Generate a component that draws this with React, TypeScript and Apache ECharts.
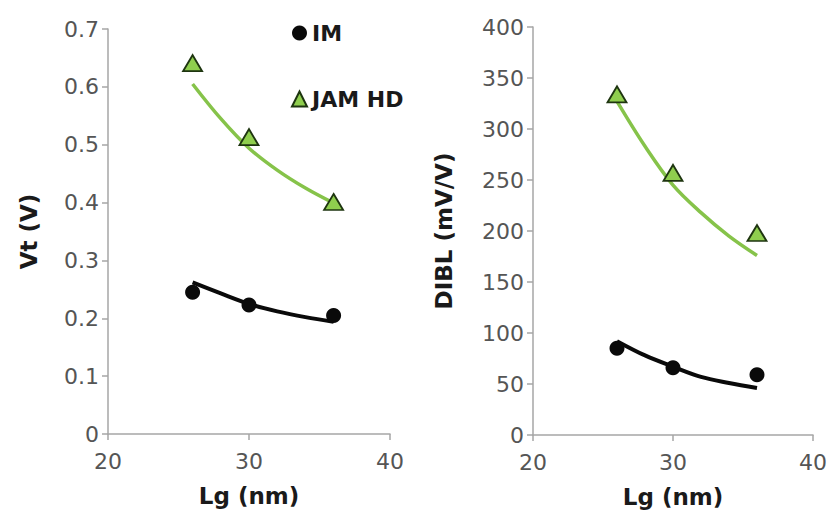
import React, { useEffect, useRef } from "react";
import * as echarts from "echarts";

// Measured points (Lg in nm)
const lg = [26, 30, 36];
const vtIM = [0.245, 0.223, 0.205];
const vtJAM = [0.641, 0.513, 0.401];
const dibIM = [85, 66, 59];
const dibJAM = [334, 257, 198];

// Fitted curves
const fitLg = [26, 28, 30, 32, 34, 36];
const vtIMFit = [0.262, 0.243, 0.225, 0.212, 0.202, 0.194];
const vtJAMFit = [0.605, 0.545, 0.494, 0.456, 0.425, 0.399];
const dibIMFit = [92, 78, 67, 57, 51, 46];
const dibJAMFit = [327, 283, 245, 218, 195, 176];

const xTicks = [20, 30, 40];

const FONT = "'DejaVu Sans', 'Open Sans', sans-serif";
const AXIS_GRAY = "#a6a6a6";
const LABEL_GRAY = "#555555";
const GREEN_LINE = "#86c34a";
const GREEN_FILL = "#8fce4e";
const GREEN_EDGE = "#1e3510";

const pairs = (xs: number[], ys: number[]) => xs.map((x, i) => [x, ys[i]]);

export default function App() {
  const ref = useRef<HTMLDivElement>(null);
  useEffect(() => {
    if (!ref.current) return;
    const chart = echarts.init(ref.current, null, { renderer: "svg" });

    const xAxisBase = (gridIndex: number) => ({
      type: "value",
      gridIndex,
      min: xTicks[0],
      max: xTicks[xTicks.length - 1],
      interval: 10,
      name: "Lg (nm)",
      nameLocation: "middle",
      nameGap: 50,
      nameTextStyle: { fontFamily: FONT, fontSize: 23, fontWeight: "bold", color: "#1a1a1a" },
      axisLine: { show: true, lineStyle: { color: AXIS_GRAY, width: 1.5 } },
      axisTick: { show: true, inside: false, length: 6, lineStyle: { color: AXIS_GRAY, width: 1.5 } },
      axisLabel: { fontFamily: FONT, fontSize: 22, color: LABEL_GRAY, margin: 16 },
      splitLine: { show: false },
    });

    const yAxisBase = (gridIndex: number, max: number, interval: number, name: string, nameGap: number) => ({
      type: "value",
      gridIndex,
      min: 0,
      max,
      interval,
      name,
      nameLocation: "middle",
      nameGap,
      nameTextStyle: { fontFamily: FONT, fontSize: 23, fontWeight: "bold", color: "#1a1a1a" },
      axisLine: { show: true, lineStyle: { color: AXIS_GRAY, width: 1.5 } },
      axisTick: { show: true, inside: false, length: 6, lineStyle: { color: AXIS_GRAY, width: 1.5 } },
      axisLabel: { fontFamily: FONT, fontSize: 22, color: LABEL_GRAY, margin: 9 },
      splitLine: { show: false },
    });

    const fitLine = (name: string, xi: number, data: number[][], color: string, width: number) => ({
      type: "line",
      name,
      xAxisIndex: xi,
      yAxisIndex: xi,
      data,
      smooth: 0.35,
      showSymbol: false,
      symbol: "none",
      lineStyle: { color, width },
      z: 2,
      silent: true,
    });

    const imScatter = (xi: number, data: number[][]) => ({
      type: "scatter",
      name: "IM",
      xAxisIndex: xi,
      yAxisIndex: xi,
      data,
      symbol: "circle",
      symbolSize: 15,
      itemStyle: { color: "#0a0a0a", opacity: 1 },
      z: 3,
    });

    const jamScatter = (xi: number, data: number[][]) => ({
      type: "scatter",
      name: "JAM HD",
      xAxisIndex: xi,
      yAxisIndex: xi,
      data,
      symbol: "triangle",
      symbolSize: [19, 16],
      itemStyle: { color: GREEN_FILL, borderColor: GREEN_EDGE, borderWidth: 1.8, opacity: 1 },
      z: 3,
    });

    chart.setOption({
      animation: false,
      backgroundColor: "#ffffff",
      grid: [
        { left: 108, top: 29, width: 282, height: 405 },
        { left: 533, top: 27, width: 280, height: 408 },
      ],
      xAxis: [xAxisBase(0), xAxisBase(1)],
      yAxis: [
        yAxisBase(0, 0.7, 0.1, "Vt (V)", 68),
        yAxisBase(1, 400, 50, "DIBL (mV/V)", 78),
      ],
      legend: {
        data: ["IM", "JAM HD"],
        orient: "vertical",
        left: 286,
        top: 14,
        itemWidth: 15,
        itemHeight: 15,
        itemGap: 38,
        textStyle: { fontFamily: FONT, fontSize: 22, fontWeight: "bold", color: "#1a1a1a", lineHeight: 28 },
        selectedMode: false,
      },
      series: [
        fitLine("IM fit", 0, pairs(fitLg, vtIMFit), "#0a0a0a", 4),
        fitLine("JAM fit", 0, pairs(fitLg, vtJAMFit), GREEN_LINE, 3.5),
        imScatter(0, pairs(lg, vtIM)),
        jamScatter(0, pairs(lg, vtJAM)),
        fitLine("IM fit", 1, pairs(fitLg, dibIMFit), "#0a0a0a", 4),
        fitLine("JAM fit", 1, pairs(fitLg, dibJAMFit), GREEN_LINE, 3.5),
        imScatter(1, pairs(lg, dibIM)),
        jamScatter(1, pairs(lg, dibJAM)),
      ],
    });

    return () => chart.dispose();
  }, []);

  return <div ref={ref} style={{ width: 833, height: 516, position: "absolute", left: 0, top: 0 }} />;
}
